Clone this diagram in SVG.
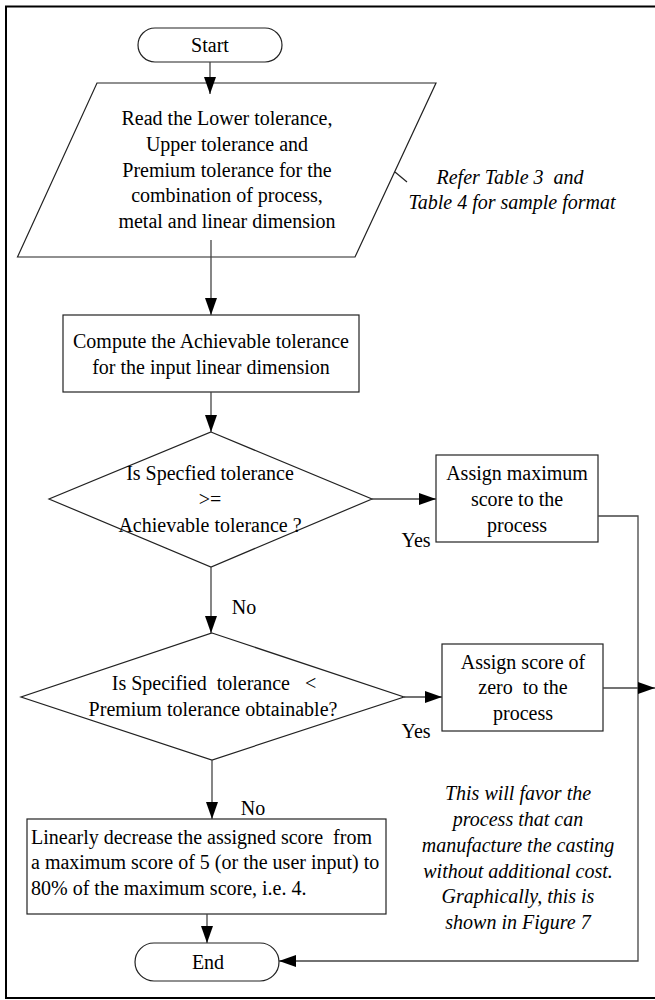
<svg xmlns="http://www.w3.org/2000/svg" width="655" height="1000" viewBox="0 0 655 1000">
<style>
  .t { font-family: "Liberation Serif", "Times New Roman", serif; font-size: 20px; fill: #000; text-anchor: middle; white-space: pre; }
  .l { text-anchor: start; }
  .i { font-style: italic; }
  .s { fill: #fff; stroke: #222; stroke-width: 1.2; }
  .c { fill: none; stroke: #444; stroke-width: 1.3; }
</style>
<defs>
  <marker id="ah" markerWidth="18" markerHeight="14" refX="17" refY="7" orient="auto" markerUnits="userSpaceOnUse">
    <path d="M0,1 L17,7 L0,13 z" fill="#000"/>
  </marker>
</defs>
<rect width="655" height="1000" fill="#fff"/>
<path d="M656,6.5 H6 V998 H656" fill="none" stroke="#000" stroke-width="2"/>

<g id="start">
  <rect class="s" x="138" y="28" width="144" height="34" rx="17"/>
  <text class="t" x="210" y="51.5">Start</text>
</g>
<g id="read">
  <polygon class="s" points="97,83 436,83 355,257 17.5,257"/>
  <text class="t" x="227" y="124.5">Read the Lower tolerance,</text>
  <text class="t" x="227" y="150.5">Upper tolerance and</text>
  <text class="t" x="227" y="176.5">Premium tolerance for the</text>
  <text class="t" x="227" y="201.5">combination of process,</text>
  <text class="t" x="227" y="227.5">metal and linear dimension</text>
</g>
<g id="note1">
  <line x1="395" y1="172" x2="407" y2="182" stroke="#222" stroke-width="1.2"/>
  <text class="t i" x="510" y="183.5">Refer Table 3  and</text>
  <text class="t i" x="512" y="208.5">Table 4 for sample format</text>
</g>
<g id="compute">
  <rect class="s" x="63" y="315" width="296" height="77"/>
  <text class="t" x="211" y="348">Compute the Achievable tolerance</text>
  <text class="t" x="211" y="374">for the input linear dimension</text>
</g>
<g id="decision1">
  <polygon class="s" points="211,432 372,499 211,567 49,499"/>
  <text class="t" x="210" y="479.5">Is Specfied tolerance</text>
  <text class="t" x="210" y="505.5">&gt;=</text>
  <text class="t" x="210" y="531.5">Achievable tolerance ?</text>
</g>
<g id="assignmax">
  <rect class="s" x="436" y="455" width="162" height="87"/>
  <text class="t" x="517" y="479.5">Assign maximum</text>
  <text class="t" x="517" y="505.5">score to the</text>
  <text class="t" x="517" y="531.5">process</text>
</g>
<g id="decision2">
  <polygon class="s" points="212,633 404,697 212,760 21,697"/>
  <text class="t" x="214" y="689.5">Is Specified  tolerance   &lt;</text>
  <text class="t" x="213" y="715.5">Premium tolerance obtainable?</text>
</g>
<g id="assignzero">
  <rect class="s" x="442" y="644" width="161" height="87"/>
  <text class="t" x="523" y="668.5">Assign score of</text>
  <text class="t" x="523" y="693.5">zero  to the</text>
  <text class="t" x="523" y="719.5">process</text>
</g>
<g id="linear">
  <rect class="s" x="27" y="819" width="359" height="95"/>
  <text class="t l" x="31" y="843.5">Linearly decrease the assigned score  from</text>
  <text class="t l" x="31" y="868.5">a maximum score of 5 (or the user input) to</text>
  <text class="t l" x="31" y="894.5">80% of the maximum score, i.e. 4.</text>
</g>
<g id="note2">
  <text class="t i" x="518" y="799.5">This will favor the</text>
  <text class="t i" x="518" y="825.5">process that can</text>
  <text class="t i" x="518" y="851.5">manufacture the casting</text>
  <text class="t i" x="518" y="877.5">without additional cost.</text>
  <text class="t i" x="518" y="902.5">Graphically, this is</text>
  <text class="t i" x="518" y="928.5">shown in Figure 7</text>
</g>
<g id="end">
  <rect class="s" x="135" y="943" width="144" height="38" rx="19"/>
  <text class="t" x="208" y="968.5">End</text>
</g>

<g id="connectors">
  <line class="c" x1="210" y1="62" x2="210" y2="94" marker-end="url(#ah)"/>
  <line class="c" x1="211" y1="240" x2="211" y2="315" marker-end="url(#ah)"/>
  <line class="c" x1="211" y1="392" x2="211" y2="432" marker-end="url(#ah)"/>
  <line class="c" x1="372" y1="499" x2="436" y2="499" marker-end="url(#ah)"/>
  <line class="c" x1="211" y1="567" x2="211" y2="633" marker-end="url(#ah)"/>
  <line class="c" x1="404" y1="697" x2="442" y2="697" marker-end="url(#ah)"/>
  <line class="c" x1="212" y1="760" x2="212" y2="819" marker-end="url(#ah)"/>
  <line class="c" x1="207" y1="914" x2="207" y2="943" marker-end="url(#ah)"/>
  <polyline class="c" points="598,516 638,516 638,961 279,961" marker-end="url(#ah)"/>
  <line class="c" x1="603" y1="688" x2="655" y2="688" marker-end="url(#ah)"/>
  <text class="t" x="416" y="546.5">Yes</text>
  <text class="t" x="244" y="613.5">No</text>
  <text class="t" x="416" y="737.5">Yes</text>
  <text class="t" x="253" y="814.5">No</text>
</g>
</svg>
